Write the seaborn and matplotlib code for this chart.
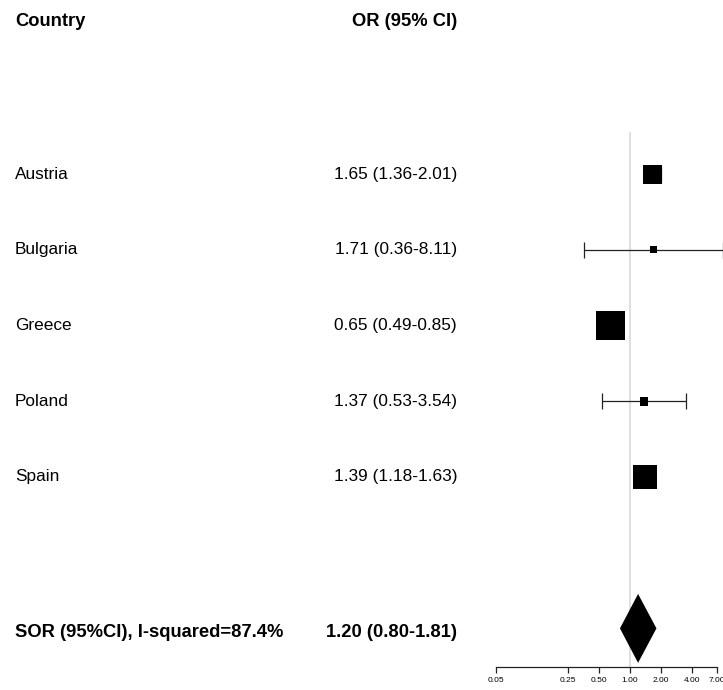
import numpy as np
import pandas as pd
import matplotlib
matplotlib.use("Agg")
import matplotlib.pyplot as plt
import matplotlib.transforms as mtransforms
import seaborn as sns

# dados do forest plot
countries = ["Austria", "Bulgaria", "Greece", "Poland", "Spain"]
odds = [1.65, 1.71, 0.65, 1.37, 1.39]
ci_low = [1.36, 0.36, 0.49, 0.53, 1.18]
ci_high = [2.01, 8.11, 0.85, 3.54, 1.63]
weights = [18.9, 2.5, 44.1, 4.2, 30.2]  # % (tamanho dos quadrados)
summary_label = "SOR (95%CI), I-squared=87.4%"
summary_or = 1.20
summary_low = 0.80
summary_high = 1.81
ticks = [0.05, 0.25, 0.50, 1.00, 2.00, 4.00, 7.00]

df = pd.DataFrame({"country": countries, "OR": odds, "low": ci_low,
                   "high": ci_high, "w": weights})
df["row"] = np.arange(len(df))
summary_row = len(df) + 1

sns.set_style("white")
plt.rcParams["font.family"] = ["Liberation Sans", "DejaVu Sans"]
plt.rcParams["text.color"] = "black"

fig = plt.figure(figsize=(7.23, 6.90), dpi=100)
ax = fig.add_axes([496 / 723, 23 / 690, 227 / 723, 667 / 690])
ax.set_xscale("log")
ax.set_xlim(0.05, 8.02)
ax.set_ylim(6.51, -2.30)

# linha de referencia em OR = 1
ax.vlines(1, -0.555, 6.51, color="#dcdcdc", lw=1.3, zorder=0)

# intervalos de confianca
ax.errorbar(df["OR"], df["row"],
            xerr=[df["OR"] - df["low"], df["high"] - df["OR"]],
            fmt="none", ecolor="#222222", elinewidth=0.9, capsize=5.6,
            capthick=0.9, zorder=1)

# quadrados (area proporcional ao peso)
sns.scatterplot(data=df, x="OR", y="row", size="w", sizes=(25, 437),
                marker="s", color="black", edgecolor="black", linewidth=0,
                legend=False, ax=ax, zorder=2)

# diamante do resultado combinado
h = 0.455
ax.fill([summary_low, summary_or, summary_high, summary_or],
        [summary_row, summary_row - h, summary_row, summary_row + h],
        color="black", lw=0, zorder=3)

# eixo x
sns.despine(ax=ax, left=True, top=True, right=True)
ax.spines["bottom"].set_bounds(ticks[0], ticks[-1])
ax.spines["bottom"].set_linewidth(0.9)
ax.spines["bottom"].set_color("#222222")
ax.set_xticks(ticks)
ax.set_xticklabels([f"{t:.2f}" for t in ticks])
ax.xaxis.set_minor_locator(matplotlib.ticker.NullLocator())
ax.tick_params(axis="x", bottom=True, direction="out", length=4.3,
               width=0.9, color="#222222", labelsize=6, labelcolor="black",
               pad=3)
ax.set_yticks([])
ax.set_xlabel("")
ax.set_ylabel("")

# colunas de texto
trans = mtransforms.blended_transform_factory(fig.transFigure, ax.transData)
x_left = 15 / 723
x_right = 457 / 723
fs = 12.4
fs_bold = 13.2
ax.text(x_left, -2.02, "Country", transform=trans, ha="left", va="center",
        fontsize=fs_bold, fontweight="bold", clip_on=False)
ax.text(x_right, -2.02, "OR (95% CI)", transform=trans, ha="right",
        va="center", fontsize=fs_bold, fontweight="bold", clip_on=False)
for _, r in df.iterrows():
    ax.text(x_left, r["row"], r["country"], transform=trans, ha="left",
            va="center", fontsize=fs, clip_on=False)
    ax.text(x_right, r["row"], f"{r['OR']:.2f} ({r['low']:.2f}-{r['high']:.2f})",
            transform=trans, ha="right", va="center", fontsize=fs,
            clip_on=False)
ax.text(x_left, summary_row + 0.05, summary_label, transform=trans,
        ha="left", va="center", fontsize=fs_bold, fontweight="bold",
        clip_on=False)
ax.text(x_right, summary_row + 0.05,
        f"{summary_or:.2f} ({summary_low:.2f}-{summary_high:.2f})",
        transform=trans, ha="right", va="center", fontsize=fs_bold,
        fontweight="bold", clip_on=False)

fig.savefig("out.png", dpi=100)
